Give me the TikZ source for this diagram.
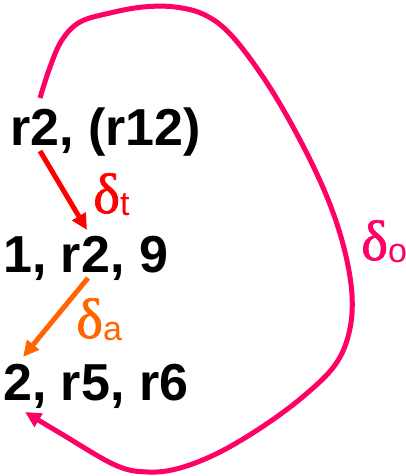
\documentclass[tikz,border=0pt]{standalone}
\usepackage{fontspec}
\setmainfont{Liberation Sans}
\newfontfamily\symfont[FakeBold=1.2]{Liberation Serif}
\usetikzlibrary{arrows.meta}
\definecolor{dred}{RGB}{255,0,0}
\definecolor{dorange}{RGB}{255,102,0}
\definecolor{dpink}{RGB}{255,0,102}
\tikzset{
  term/.style={anchor=base west, inner sep=0pt, font=\fontsize{52}{60}\selectfont\bfseries},
  lbl/.style={anchor=base west, inner sep=0pt},
  conn/.style={line width=5pt, -{Triangle[length=16pt,width=15pt]}},
}
\newcommand{\dlabel}[1]{{\symfont\fontsize{57}{59}\selectfont δ}\raisebox{-2pt}{\fontsize{34}{36}\selectfont #1}}
\begin{document}
\begin{tikzpicture}[x=1pt,y=-1pt]
\useasboundingbox (0,0) rectangle (405,476);
\node[term] (n1) at (10,145) {r2, (r12)};
\node[term] (n2) at (3,272) {1, r2, 9};
\node[term] (n3) at (3,400) {2, r5, r6};
\draw[conn, dred] ([shift={(30,6)}]n1.base west) -- ([shift={(84,-42)}]n2.base west);
\draw[conn, dorange] ([shift={(85,6)}]n2.base west) -- ([shift={(20,-43)}]n3.base west);
\coordinate (o1) at ([shift={(30,-47)}]n1.base west);
\coordinate (o2) at ([shift={(22,12)}]n3.base west);
\draw[conn, dpink] plot[smooth, tension=0.6] coordinates {(o1) (50,67) (62,40) (80,22) (110,13) (143,7) (175,7) (205,15) (232,36) (267,83) (300,140) (327,197) (344,248) (352,295) (349,333) (335,365) (305,395) (265,425) (220,452) (180,468) (148,472) (115,465) (60,433) (o2)};
\node[lbl, text=dred] (lt) at (93,213) {\dlabel{t}};
\node[lbl, text=dorange] (la) at (76,338) {\dlabel{a}};
\node[lbl, text=dpink] (lo) at (361,260) {\dlabel{o}};
\end{tikzpicture}
\end{document}
